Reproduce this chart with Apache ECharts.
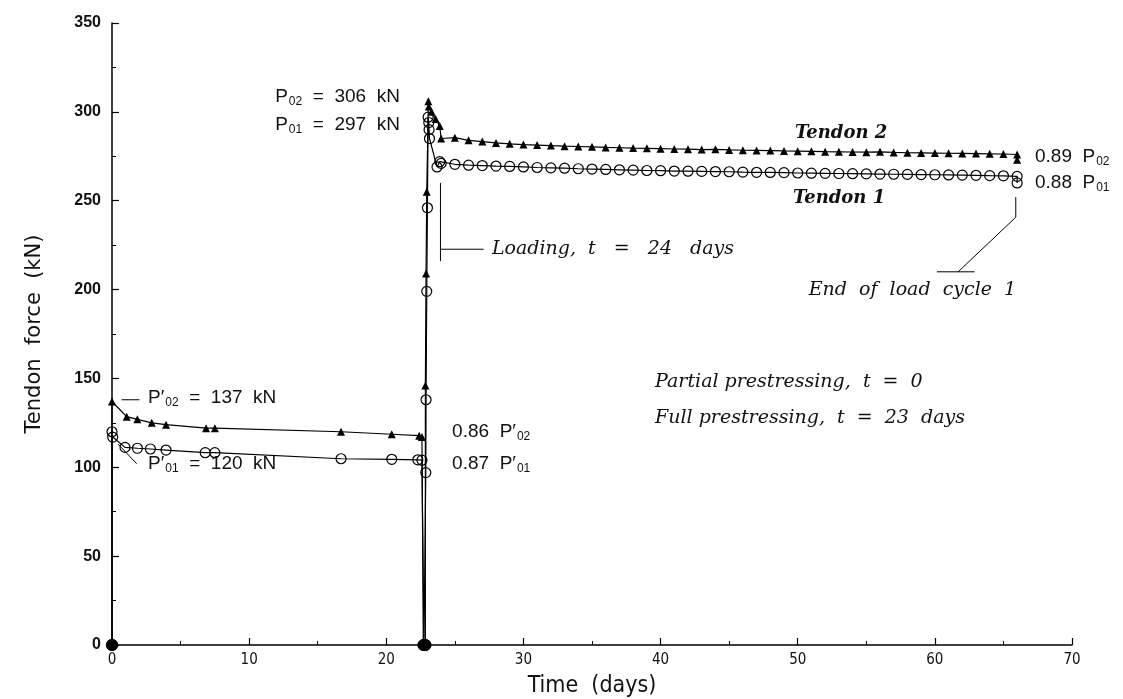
<!DOCTYPE html>
<html><head><meta charset="utf-8">
<script src="https://cdn.jsdelivr.net/npm/echarts@6/dist/echarts.min.js"></script>
<style>html,body{margin:0;padding:0;background:#fff}#c{width:1123px;height:699px}</style>
</head><body><div id="c"></div>
<script>
// ---- data ----
const tendon2Time = [0, 0, 1.07, 1.85, 2.9, 3.94, 6.86, 7.5, 16.7, 20.4, 22.4, 22.6, 22.7, 22.85, 22.85, 22.9, 22.95, 23.07, 23.1, 23.3, 23.6, 23.9, 24,
  25, 26, 27, 28, 29, 30, 31, 32, 33, 34, 35, 36, 37, 38, 39, 40, 41, 42, 43, 44, 45, 46, 47, 48, 49, 50, 51, 52, 53, 54, 55, 56, 57, 58, 59, 60, 61, 62, 63, 64, 65, 66, 66];
const tendon2Force = [0, 137, 128.5, 127, 125, 124, 122, 122, 120, 118.6, 117.8, 117, 0, 0, 146, 209, 255, 306, 303, 300, 296, 292, 285,
  285.5, 284, 283.3, 282.5, 282, 281.6, 281.3, 281, 280.7, 280.5, 280.3, 280, 279.8, 279.6, 279.5, 279.3, 279.1, 279, 278.8, 278.9, 278.6, 278.4, 278.3, 278.2, 278, 277.9, 277.8, 277.6, 277.5, 277.4, 277.3, 277.5, 277.2, 277, 276.9, 276.8, 276.7, 276.6, 276.5, 276.4, 276.3, 276, 273];

const tendon1Time = [0, 0, 0.05, 0.95, 1.85, 2.8, 3.94, 6.8, 7.5, 16.7, 20.4, 22.3, 22.6, 22.75, 22.85, 22.88, 22.9, 22.95, 23.0, 23.05, 23.1, 23.12, 23.15, 23.7, 23.9, 24,
  25, 26, 27, 28, 29, 30, 31, 32, 33, 34, 35, 36, 37, 38, 39, 40, 41, 42, 43, 44, 45, 46, 47, 48, 49, 50, 51, 52, 53, 54, 55, 56, 57, 58, 59, 60, 61, 62, 63, 64, 65, 66, 66];
const tendon1Force = [0, 120, 117, 111.2, 110.7, 110.3, 109.7, 108.2, 108.2, 104.8, 104.5, 104.2, 104, 0, 0, 97, 138, 199, 246, 297, 294, 290, 285, 269, 272, 271,
  270.5, 270, 269.8, 269.5, 269.3, 269, 268.7, 268.5, 268.3, 268, 267.8, 267.6, 267.4, 267.2, 267, 266.9, 266.7, 266.6, 266.5, 266.4, 266.3, 266.1, 266, 265.9, 265.8, 265.6, 265.5, 265.4, 265.3, 265.2, 265.1, 265, 264.9, 264.8, 264.7, 264.6, 264.5, 264.4, 264.3, 264.1, 264, 263.7, 260];

const xTickLabels = ['0', '10', '20', '30', '40', '50', '60', '70'];
const yTickLabels = ['0', '50', '100', '150', '200', '250', '300', '350'];

// annotation anchors in data coordinates
const annoText = [
  ['P{s|02}  =  306  kN', 11.9, 308.4, 'sans'],
  ['P{s|01}  =  297  kN', 11.9, 292.6, 'sans'],
  ['Tendon 2', 49.8, 288, 'serifb'],
  ['Tendon 1', 49.65, 251.5, 'serifb'],
  ['0.89  P{s|02}', 67.3, 274.6, 'sans'],
  ['0.88  P{s|01}', 67.3, 260, 'sans'],
  ['P′{s|02}  =  137  kN', 2.63, 139, 'sans'],
  ['P′{s|01}  =  120  kN', 2.63, 101.9, 'sans'],
  ['0.86  P′{s|02}', 24.8, 119.9, 'sans'],
  ['0.87  P′{s|01}', 24.8, 101.9, 'sans'],
  ['Partial prestressing,  t  =  0', 39.6, 148, 'serif'],
  ['Full prestressing,  t  =  23  days', 39.6, 127.7, 'serif'],
  ['Loading,  t   =   24   days', 27.7, 223, 'serif'],
  ['End  of  load  cycle  1', 50.8, 199.8, 'serif']
];
const leaderLines = [
  [[23.95, 260], [23.95, 216]],
  [[23.95, 222.7], [27.1, 222.7]],
  [[65.9, 252], [65.9, 240.7], [61.7, 210]],
  [[60.15, 210], [62.9, 210]],
  [[0.7, 138], [2.0, 138]],
  [[0.45, 113], [1.8, 102]]
];

function pts(ts, vs) {
  return ts.map((t, i) => {
    const v = vs[i];
    if (v === 0) return { value: [t, v], symbol: 'circle', symbolSize: 11, itemStyle: { color: '#000', borderColor: '#000' } };
    return { value: [t, v] };
  });
}

const chart = echarts.init(document.getElementById('c'));
chart.setOption({
  animation: false,
  backgroundColor: '#fff',
  grid: { left: 112, right: 51, top: 23, bottom: 54, containLabel: false, outerBoundsMode: 'none' },
  xAxis: {
    type: 'value', min: 0, max: 70, interval: 10,
    name: 'Time  (days)', nameLocation: 'middle', nameGap: 30,
    nameTextStyle: { fontFamily: 'Liberation Sans Narrow, DejaVu Sans Condensed, sans-serif', fontSize: 23, color: '#111' },
    axisLine: { show: true, lineStyle: { color: '#000', width: 1.5 } },
    axisTick: { show: true, inside: true, length: 7, lineStyle: { color: '#000', width: 1.2 } },
    minorTick: { show: true, splitNumber: 2, length: 4, lineStyle: { color: '#000', width: 1 } },
    splitLine: { show: false },
    axisLabel: { margin: 8, fontFamily: 'Liberation Sans Narrow, DejaVu Sans Condensed, sans-serif', fontSize: 15, color: '#111',
      formatter: v => xTickLabels[Math.round(v / 10)] }
  },
  yAxis: {
    type: 'value', min: 0, max: 350, interval: 50,
    name: 'Tendon  force  (kN)', nameLocation: 'middle', nameGap: 67, nameRotate: 90,
    nameTextStyle: { fontFamily: 'DejaVu Sans, sans-serif', fontSize: 21, color: '#111', fontWeight: 'normal' },
    axisLine: { show: true, lineStyle: { color: '#000', width: 1.5 } },
    axisTick: { show: true, inside: true, length: 7, lineStyle: { color: '#000', width: 1.2 } },
    minorTick: { show: true, splitNumber: 2, length: 4, lineStyle: { color: '#000', width: 1 } },
    splitLine: { show: false },
    axisLabel: { margin: 11, color: '#111', fontFamily: 'Liberation Sans, Arial, sans-serif', fontSize: 16, fontWeight: 'bold',
      formatter: v => yTickLabels[Math.round(v / 50)] }
  },
  series: [
    {
      name: 'Tendon 2', type: 'line', data: pts(tendon2Time, tendon2Force),
      symbol: 'triangle', symbolSize: 8, showAllSymbol: true,
      itemStyle: { color: '#000' }, lineStyle: { color: '#000', width: 1.2 }, z: 3
    },
    {
      name: 'Tendon 1', type: 'line', data: pts(tendon1Time, tendon1Force),
      symbol: 'circle', symbolSize: 10, showAllSymbol: true,
      itemStyle: { color: 'rgba(255,255,255,0)', borderColor: '#000', borderWidth: 1.2 },
      lineStyle: { color: '#000', width: 1.2 }, z: 2
    }
  ]
});

function toPx(p) { return chart.convertToPixel({ gridIndex: 0 }, p); }
const fonts = {
  sans: '19px "Liberation Sans", Arial, sans-serif',
  serif: 'italic 19px "DejaVu Serif", serif',
  serifb: 'italic bold 18px "DejaVu Serif", serif'
};
const graphics = [];
annoText.forEach(a => {
  const p = toPx([a[1], a[2]]);
  graphics.push({
    type: 'text', x: p[0], y: p[1], silent: true,
    style: {
      text: a[0], fill: '#111', font: fonts[a[3]],
      textAlign: 'left', textVerticalAlign: 'middle',
      rich: { s: { fontSize: 12, fontFamily: 'Liberation Sans, sans-serif', padding: [10, 0, 0, 1], fill: '#111' } }
    }
  });
});
leaderLines.forEach(l => {
  graphics.push({ type: 'polyline', silent: true, shape: { points: l.map(toPx) }, style: { stroke: '#000', lineWidth: 1, fill: null } });
});
chart.setOption({ graphic: graphics });
</script></body></html>
